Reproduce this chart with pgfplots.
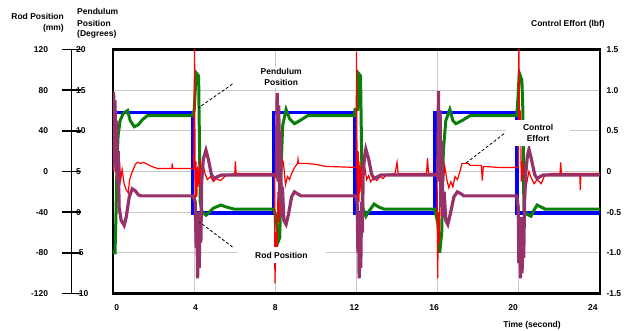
\documentclass[border=0pt]{standalone}
\usepackage{pgfplots}
\pgfplotsset{compat=1.18}
\usepackage{fontspec}
\setmainfont{Liberation Sans}
\definecolor{cblue}{RGB}{0,0,255}
\definecolor{cgreen}{RGB}{10,128,10}
\definecolor{cred}{RGB}{255,0,0}
\definecolor{cpurple}{RGB}{150,50,105}
\definecolor{cgrid}{RGB}{200,200,200}
\newcommand{\lbl}[2]{\makebox[20pt][r]{#1}\hspace{28pt}\makebox[20pt][l]{#2}}
\begin{document}
\begin{tikzpicture}[font=\fontsize{8.5}{10}\selectfont\bfseries]
\useasboundingbox (-113pt,-37.5pt) rectangle (515pt,293.5pt);
\begin{axis}[
 name=main, at={(0,0)}, anchor=south west, scale only axis,
 width=487pt, height=244pt,
 xmin=0, xmax=24, ymin=-120, ymax=120,
 axis line style={line width=2.4pt, black},
 xtick={4,8,12,16,20}, xticklabels={},
 extra x ticks={0.18,4.06,8.0,11.89,15.83,19.72,23.65},
 extra x tick labels={0,4,8,12,16,20,24},
 extra x tick style={grid=none, xticklabel style={anchor=center, yshift=-14.5pt}},
 ytick={-120,-80,...,120},
 yticklabels={-1.5,-1.0,-0.5,0,0.5,1.0,1.5},
 yticklabel pos=right,
 yticklabel style={anchor=west, xshift=3pt},
 major tick length=0pt,
 xmajorgrids, ymajorgrids,
 grid style={line width=1.3pt, color=cgrid},
]
% reference (blue)
\addplot[cblue, line width=3.4pt] coordinates {
(0,58) (3.92,58) (3.92,-41) (7.92,-41) (7.92,58) (11.93,58) (11.93,-41)
(15.87,-41) (15.87,58) (19.9,58) (19.9,-41) (24,-41)};
% pendulum position (green)
\addplot[cgreen, line width=3pt] coordinates {
(0,-80) (0.1,-80) (0.15,-40) (0.2,10) (0.25,35) (0.35,50) (0.5,57) (0.72,60) (0.85,50) (1.05,44) (1.25,46) (1.45,51) (1.7,55) (3.9,55)
(4.0,60) (4.1,97) (4.22,94) (4.26,30) (4.3,-30) (4.4,-40) (4.59,-43) (4.75,-40) (4.95,-36) (5.31,-33) (5.6,-35) (5.97,-37) (7.92,-37)
(8.05,-45) (8.12,-70) (8.22,-65) (8.28,0) (8.36,45) (8.53,61) (8.7,52) (8.94,47) (9.2,50) (9.6,55) (11.9,55)
(11.93,61) (12.05,61) (12.08,97) (12.2,94) (12.25,20) (12.3,-35) (12.46,-44) (12.65,-38) (12.87,-32) (13.1,-35) (13.36,-37) (15.85,-37)
(16.0,-50) (16.1,-80) (16.2,-60) (16.28,20) (16.4,50) (16.6,61) (16.75,50) (16.9,47) (17.2,50) (17.6,55) (19.9,55)
(19.95,70) (20.02,97) (20.15,90) (20.2,60) (20.25,-38) (20.4,-42) (20.6,-44) (20.75,-38) (20.9,-33) (21.1,-35) (21.3,-37) (24,-37)};
% control effort (red)
\addplot[cred, line width=1.2pt] coordinates {
(0,30) (0.04,5) (0.08,40) (0.12,0) (0.18,25) (0.25,-5) (0.32,10) (0.38,-8) (0.45,2) (0.55,-12) (0.65,-18) (0.75,-21) (0.82,-8) (0.9,-3) (1.0,2) (1.1,7) (1.21,9) (1.35,8) (1.5,9) (1.7,7) (1.9,5) (2.2,3) (2.9,3) (2.92,8) (2.95,3) (3.98,3)
(4.02,125) (4.05,-30) (4.09,10) (4.13,-25) (4.18,5) (4.24,-15) (4.3,12) (4.36,-5) (4.45,5) (4.55,-3) (4.65,-8) (4.8,-5) (4.95,-10) (5.1,-7) (5.3,-9) (5.5,-5) (5.7,-3) (6.0,-2) (6.03,10) (6.07,-2) (7.95,-2)
(7.98,-110) (8.03,-60) (8.08,-75) (8.13,-20) (8.18,-50) (8.22,10) (8.27,-15) (8.33,12) (8.4,9) (8.5,-13) (8.6,-5) (8.7,-8) (8.8,-2) (8.95,4) (9.1,8) (9.12,12) (9.15,8) (9.5,8) (10.0,7) (10.5,5) (11.98,4)
(12.0,118) (12.04,-60) (12.08,20) (12.12,-30) (12.17,10) (12.22,-20) (12.28,5) (12.35,-5) (12.42,3) (12.5,-8) (12.6,-4) (12.7,-10) (12.85,-6) (13.0,-9) (13.15,-5) (13.3,-7) (13.5,-3) (13.9,-2) (14.0,9) (14.05,-2) (15.45,-2) (15.5,13) (15.55,-2) (15.97,-2)
(16.0,-105) (16.04,-40) (16.08,-70) (16.12,-10) (16.17,-30) (16.22,10) (16.28,-10) (16.35,5) (16.45,-8) (16.55,-16) (16.65,-10) (16.75,-15) (16.85,-5) (16.97,-8) (17.1,0) (17.2,8) (17.5,8) (17.6,6) (18.15,6) (18.2,-9) (18.25,5) (19.0,4) (19.97,4)
(20.0,125) (20.04,30) (20.08,60) (20.12,-10) (20.18,10) (20.25,-5) (20.32,3) (20.4,-10) (20.5,0) (20.6,-6) (20.75,-12) (20.9,-8) (21.1,-12) (21.25,-5) (21.4,-3) (21.6,-2) (22.03,-2) (22.06,9) (22.1,-2) (23.0,-2) (23.03,-18) (23.06,-2) (24,-2)};
% rod position (purple)
\addplot[cpurple, line width=3.2pt] coordinates {
(0,0) (0.03,78) (0.07,20) (0.1,70) (0.14,5) (0.18,50) (0.22,-10) (0.26,20) (0.3,-35) (0.4,-48) (0.55,-53) (0.65,-45) (0.8,-25) (0.95,-17) (1.1,-19) (1.25,-23) (1.4,-24) (3.95,-24)
(4.05,-30) (4.1,-75) (4.13,-40) (4.17,-105) (4.21,-50) (4.25,-95) (4.29,-40) (4.33,-70) (4.37,-10) (4.45,12) (4.58,21) (4.7,12) (4.85,-3) (4.98,-7) (5.15,-5) (5.35,-3.5) (7.95,-3.5)
(8.05,-5) (8.09,77) (8.13,-10) (8.17,65) (8.21,-30) (8.25,40) (8.29,-45) (8.35,-15) (8.42,-48) (8.53,-52) (8.65,-42) (8.8,-25) (8.94,-20) (9.1,-22) (9.27,-24) (11.95,-24)
(12.03,-30) (12.07,-80) (12.1,-40) (12.13,-105) (12.17,-50) (12.21,-95) (12.25,-30) (12.29,-60) (12.33,0) (12.4,15) (12.46,22) (12.6,12) (12.75,-3) (12.87,-7) (13.05,-5) (13.2,-3.5) (15.95,-3.5)
(16.0,-5) (16.04,79) (16.08,-10) (16.12,60) (16.16,-35) (16.2,30) (16.25,-45) (16.32,-20) (16.4,-48) (16.5,-52) (16.62,-42) (16.8,-25) (16.97,-20) (17.15,-22) (17.3,-24) (19.9,-24)
(19.97,-35) (20.0,-90) (20.04,-45) (20.08,-105) (20.12,-55) (20.16,-100) (20.2,-45) (20.24,-85) (20.28,-30) (20.35,0) (20.42,15) (20.5,22) (20.62,12) (20.78,-3) (20.9,-7) (21.05,-5) (21.2,-3.5) (24,-3.5)};
% annotations
\draw[black, densely dashed, line width=0.8pt] (axis cs:5.89,86.1) -- (axis cs:4.21,62.5);
\draw[black, densely dashed, line width=0.8pt] (axis cs:5.89,-74.3) -- (axis cs:4.26,-49.7);
\draw[black, densely dashed, line width=0.8pt] (axis cs:17.4,8.4) -- (axis cs:19.32,37.9);
\node[fill=white, inner xsep=16pt, inner ysep=1.5pt, align=center, font=\fontsize{8.5}{11}\selectfont\bfseries] at (axis cs:8.29,92.5) {Pendulum\\Position};
\node[fill=white, inner xsep=18pt, inner ysep=5pt] at (axis cs:8.3,-82.1) {Rod Position};
\node[fill=white, inner xsep=17pt, inner ysep=4pt, align=center, font=\fontsize{8.5}{11}\selectfont\bfseries] at (axis cs:20.95,37.9) {Control\\Effort};
\end{axis}
% left double scale
\begin{axis}[
 at={(-41.4pt,0)}, anchor=south west, scale only axis,
 width=10pt, height=244pt,
 xmin=0, xmax=1, ymin=-120, ymax=120,
 axis x line=none, axis y line*=left,
 y axis line style={line width=1.5pt, black, -},
 ytick={-120,-80,...,120},
 yticklabels={\lbl{-120}{-10},\lbl{-80}{-5},\lbl{-40}{0},\lbl{0}{5},\lbl{40}{10},\lbl{80}{15},\lbl{120}{20}},
 yticklabel style={anchor=center, inner sep=0pt},
 tick align=center, major tick length=19pt,
 every tick/.style={line width=1.5pt, black},
]
\end{axis}
% headers
\node[anchor=east, inner sep=0pt] at (-49pt,277pt) {Rod Position};
\node[anchor=east, inner sep=0pt] at (-49pt,265.5pt) {(mm)};
\node[anchor=west, inner sep=0pt] at (-36pt,282pt) {Pendulum};
\node[anchor=west, inner sep=0pt] at (-36pt,270.5pt) {Position};
\node[anchor=west, inner sep=0pt] at (-36pt,259.5pt) {(Degrees)};
\node[anchor=east, inner sep=0pt] at (492pt,269.5pt) {Control Effort (lbf)};
\node[inner sep=0pt] at (419pt,-31.5pt) {Time (second)};
\end{tikzpicture}
\end{document}
